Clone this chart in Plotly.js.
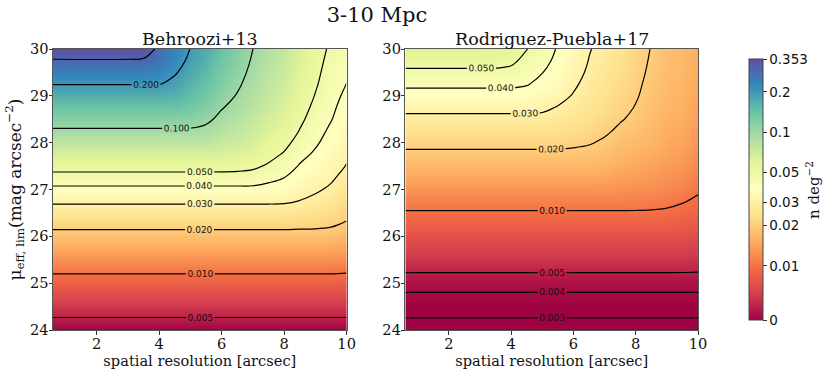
<!DOCTYPE html>
<html>
<head>
<meta charset="utf-8">
<script src="https://cdn.plot.ly/plotly-3.0.1.min.js"></script>
<style>html,body{margin:0;padding:0;background:#fff;}#chart{width:831px;height:377px;}</style>
</head>
<body>
<div id="chart"></div>
<script>
// spatial resolution [arcsec] (grid columns)
const xRes = [0.6, 3, 3.5, 4, 4.5, 5, 5.5, 6, 6.5, 7, 7.5, 8, 8.5, 9, 9.5, 10];
// limiting surface brightness (grid rows)
const muLim = [24, 24.5, 25, 25.5, 26, 26.25, 26.5, 26.75, 27, 27.25, 27.5, 27.75, 28, 28.25, 28.5, 28.75, 29, 29.25, 29.5, 29.75, 30];

// Behroozi+13 : n deg^-2, rows = muLim, cols = xRes
const behroozi = [
 [0.00403,0.00403,0.00403,0.00403,0.00403,0.00403,0.00403,0.00403,0.00403,0.00403,0.00403,0.00403,0.00403,0.00403,0.00403,0.00403],
 [0.00585,0.00585,0.00585,0.00585,0.00585,0.00585,0.00585,0.00585,0.00585,0.00585,0.00585,0.00585,0.00585,0.00585,0.00585,0.00585],
 [0.00849,0.00849,0.00849,0.00849,0.00849,0.00849,0.00849,0.00849,0.00849,0.00849,0.00849,0.00849,0.00849,0.00849,0.00849,0.00849],
 [0.01232,0.01232,0.01232,0.01232,0.01232,0.01232,0.01232,0.01232,0.01232,0.01232,0.01232,0.01232,0.01232,0.01232,0.0123,0.0120],
 [0.01788,0.01788,0.01788,0.01788,0.01788,0.01788,0.01788,0.01788,0.01788,0.01788,0.01788,0.01788,0.01788,0.0178,0.0178,0.0165],
 [0.02155,0.02155,0.02155,0.02155,0.02155,0.02155,0.02155,0.02155,0.02155,0.02155,0.02155,0.02155,0.02137,0.02124,0.0206,0.01937],
 [0.02596,0.02596,0.02596,0.02596,0.02596,0.02596,0.02596,0.02596,0.02596,0.02596,0.02596,0.0258,0.0252,0.0244,0.0231,0.0214],
 [0.03128,0.03128,0.03128,0.03128,0.03128,0.03128,0.03128,0.03128,0.03128,0.03128,0.03128,0.0311,0.0298,0.0281,0.0258,0.0232],
 [0.03768,0.03768,0.03768,0.03768,0.03768,0.03768,0.03768,0.03768,0.03768,0.0377,0.0366,0.0356,0.0327,0.0311,0.0288,0.0252],
 [0.0454,0.0454,0.0454,0.0454,0.0454,0.0454,0.0454,0.0454,0.0454,0.0449,0.0426,0.0400,0.0359,0.0335,0.0311,0.0274],
 [0.0547,0.0547,0.0547,0.0547,0.0547,0.0547,0.0547,0.0545,0.0538,0.0522,0.0485,0.0445,0.0393,0.0360,0.0329,0.0297],
 [0.0659,0.0659,0.0659,0.0659,0.0659,0.0659,0.0659,0.0645,0.0619,0.0585,0.0536,0.0489,0.0425,0.0387,0.0347,0.0311],
 [0.0794,0.0794,0.0794,0.0794,0.0794,0.0794,0.0794,0.0738,0.0698,0.0645,0.0583,0.0532,0.0459,0.0412,0.0366,0.0325],
 [0.0957,0.0957,0.0957,0.0957,0.0957,0.0957,0.0928,0.0837,0.0776,0.0701,0.0627,0.0571,0.0495,0.0433,0.0384,0.0338],
 [0.1153,0.1153,0.1153,0.1153,0.1153,0.1134,0.1057,0.0929,0.0849,0.0753,0.0668,0.0606,0.0522,0.0454,0.0404,0.0353],
 [0.1389,0.1389,0.1389,0.1389,0.1389,0.1311,0.1186,0.1017,0.0917,0.0802,0.0706,0.0639,0.0545,0.0475,0.0417,0.0367],
 [0.1673,0.1673,0.1673,0.1673,0.1638,0.1478,0.1311,0.1102,0.0982,0.0848,0.0741,0.0668,0.0566,0.0495,0.0429,0.0383],
 [0.2016,0.2016,0.2016,0.2016,0.1856,0.1633,0.1427,0.1184,0.1042,0.0890,0.0772,0.0695,0.0585,0.0512,0.0441,0.0399],
 [0.2429,0.2429,0.2429,0.2343,0.2051,0.1769,0.1533,0.1264,0.1100,0.0929,0.0801,0.0720,0.0604,0.0526,0.0453,0.0412],
 [0.2926,0.2926,0.2900,0.2616,0.2222,0.1888,0.1632,0.1340,0.1154,0.0966,0.0828,0.0743,0.0622,0.0539,0.0466,0.0426],
 [0.3526,0.3526,0.3400,0.2839,0.2369,0.1985,0.1722,0.1410,0.1205,0.1000,0.0853,0.0764,0.0640,0.0550,0.0480,0.0440]
];

// Rodriguez-Puebla+17 : n deg^-2, rows = muLim, cols = xRes
const rodriguez = [
 [0.00260,0.00260,0.00260,0.00260,0.00260,0.00260,0.00260,0.00260,0.00260,0.00260,0.00260,0.00260,0.00260,0.00260,0.00260,0.00260],
 [0.00338,0.00338,0.00338,0.00338,0.00338,0.00338,0.00338,0.00338,0.00338,0.00338,0.00338,0.00338,0.00338,0.00338,0.00338,0.00338],
 [0.00440,0.00440,0.00440,0.00440,0.00440,0.00440,0.00440,0.00440,0.00440,0.00440,0.00440,0.00440,0.00440,0.00440,0.00440,0.00440],
 [0.00574,0.00574,0.00574,0.00574,0.00574,0.00574,0.00574,0.00574,0.00574,0.00574,0.00574,0.00574,0.00574,0.00574,0.00572,0.00567],
 [0.00747,0.00747,0.00747,0.00747,0.00747,0.00747,0.00747,0.00747,0.00747,0.00747,0.00747,0.00747,0.00747,0.00745,0.00735,0.00713],
 [0.00853,0.00853,0.00853,0.00853,0.00853,0.00853,0.00853,0.00853,0.00853,0.00853,0.00853,0.00853,0.00853,0.00848,0.00830,0.00792],
 [0.00974,0.00974,0.00974,0.00974,0.00974,0.00974,0.00974,0.00974,0.00974,0.00974,0.00974,0.00974,0.00970,0.00955,0.00914,0.00873],
 [0.01112,0.01112,0.01112,0.01112,0.01112,0.01112,0.01112,0.01112,0.01112,0.01112,0.01105,0.01099,0.01088,0.01065,0.01020,0.00955],
 [0.01269,0.01269,0.01269,0.01269,0.01269,0.01269,0.01269,0.01269,0.01269,0.01269,0.01234,0.01224,0.01202,0.01168,0.01113,0.01038],
 [0.01448,0.01448,0.01448,0.01448,0.01448,0.01448,0.01448,0.01448,0.01448,0.01430,0.01368,0.01348,0.01312,0.01255,0.01200,0.01113],
 [0.01653,0.01653,0.01653,0.01653,0.01653,0.01653,0.01653,0.01653,0.01653,0.01600,0.01504,0.01470,0.01414,0.01337,0.01281,0.01179],
 [0.01887,0.01887,0.01887,0.01887,0.01887,0.01887,0.01887,0.0186,0.0184,0.01765,0.01641,0.01588,0.01509,0.01410,0.01353,0.01236],
 [0.02154,0.02154,0.02154,0.02154,0.02154,0.02154,0.0214,0.0211,0.0204,0.01925,0.01777,0.01698,0.01594,0.01474,0.01415,0.01287],
 [0.02459,0.02459,0.02459,0.02459,0.02459,0.02459,0.0241,0.0233,0.0221,0.0208,0.01910,0.01803,0.01672,0.01532,0.01468,0.01330],
 [0.02807,0.02807,0.02807,0.02807,0.02807,0.02807,0.0269,0.0254,0.0237,0.0221,0.0204,0.01895,0.01740,0.01584,0.01516,0.01368],
 [0.03203,0.03203,0.03203,0.03203,0.0320,0.0314,0.0296,0.0275,0.0253,0.0234,0.0214,0.01977,0.01797,0.01629,0.01559,0.01401],
 [0.03656,0.03656,0.03656,0.03656,0.0361,0.0345,0.0322,0.0295,0.0266,0.0245,0.0222,0.0204,0.01848,0.01669,0.01597,0.01429],
 [0.04173,0.04173,0.04173,0.0417,0.0406,0.0374,0.0345,0.0311,0.0278,0.0255,0.0230,0.0208,0.01889,0.01703,0.01629,0.01454],
 [0.04763,0.04763,0.04763,0.0471,0.0437,0.0402,0.0365,0.0326,0.0289,0.0264,0.0237,0.0212,0.01927,0.01732,0.01657,0.01476],
 [0.05437,0.05437,0.0542,0.0522,0.0469,0.0425,0.0380,0.0336,0.0298,0.0272,0.0243,0.0215,0.01958,0.01756,0.01682,0.01495],
 [0.06206,0.06206,0.0612,0.0570,0.0503,0.0445,0.0392,0.0345,0.0304,0.0279,0.0249,0.0218,0.01984,0.01775,0.01703,0.01512]
];

const levelsBehroozi = [0.005, 0.01, 0.02, 0.03, 0.04, 0.05, 0.1, 0.2, 0.3];
const levelsRodriguez = [0.003, 0.004, 0.005, 0.01, 0.02, 0.03, 0.04, 0.05];
const cbTickValues = [0, 0.01, 0.02, 0.03, 0.05, 0.1, 0.2, 0.353];
const cbTickLabels = ['0', '0.01', '0.02', '0.03', '0.05', '0.1', '0.2', '0.353'];
const xTicks = [2, 4, 6, 8, 10];
const yTicks = [24, 25, 26, 27, 28, 29, 30];

// colour normalisation: symmetric-log like (tiny linear part below 0.004, log above)
const LIN = 0.004;
function logPart(v) { return 0.207 + 0.512 * Math.log10(v / 0.01); }
function norm(v) {
  const t = v < LIN ? logPart(LIN) * v / LIN : logPart(v);
  return Math.max(0, Math.min(1, t));
}
const spectral = [
  [0.0, '#9e0142'], [0.1, '#d53e4f'], [0.2, '#f46d43'], [0.3, '#fdae61'],
  [0.4, '#fee08b'], [0.5, '#ffffbf'], [0.6, '#e6f598'], [0.7, '#abdda4'],
  [0.8, '#66c2a5'], [0.9, '#3288bd'], [1.0, '#5e4fa2']
];
const zMaxN = norm(0.353);

const SERIF = 'DejaVu Serif';
const INK = '#111';

function heat(z, xa, ya, withBar) {
  const tr = {
    type: 'heatmap', x: xRes, y: muLim, z: z.map(r => r.map(norm)),
    xaxis: xa, yaxis: ya, colorscale: spectral, zmin: 0, zmax: zMaxN,
    zsmooth: 'best', hoverinfo: 'skip', showscale: withBar
  };
  if (withBar) {
    tr.colorbar = {
      x: (742 - 53) / 648, xanchor: 'left', y: 0.5, yanchor: 'middle',
      len: 1.0, lenmode: 'fraction', thickness: 14, thicknessmode: 'pixels',
      outlinewidth: 1, outlinecolor: '#444',
      tickmode: 'array', tickvals: cbTickValues.map(norm), ticktext: cbTickLabels,
      ticks: 'outside', ticklen: 3.5, tickcolor: '#333',
      tickfont: {family: 'DejaVu Sans', size: 13.5, color: INK}
    };
  }
  return tr;
}

function lines(z, levels, xa, ya) {
  return levels.map(L => ({
    type: 'contour', x: xRes, y: muLim, z: z, xaxis: xa, yaxis: ya,
    autocontour: false,
    contours: {start: L, end: L, size: 1, coloring: 'none', showlabels: true,
               labelformat: '.3f',
               labelfont: {family: 'DejaVu Sans', size: 9, color: INK}},
    line: {color: '#000', width: 1.2, smoothing: 1},
    showscale: false, hoverinfo: 'skip'
  }));
}

const data = [
  heat(behroozi, 'x', 'y', true),
  heat(rodriguez, 'x2', 'y2', false),
  ...lines(behroozi, levelsBehroozi, 'x', 'y'),
  ...lines(rodriguez, levelsRodriguez, 'x2', 'y2')
];

const tickFont = {family: SERIF, size: 14.6, color: INK};
function xAxis(dom, anchor) {
  return {domain: dom, anchor: anchor, range: [0.6, 10], tickmode: 'array', tickvals: xTicks,
    ticks: 'outside', ticklen: 3.5, tickcolor: '#333', showline: true, mirror: true,
    linecolor: '#555', linewidth: 1, showgrid: false, zeroline: false,
    tickfont: tickFont, automargin: false, ticklabelstandoff: -3,
    title: {text: 'spatial resolution [arcsec]', font: {family: SERIF, size: 14.6, color: INK}, standoff: 2}};
}
function yAxis(anchor, withTitle) {
  const a = {domain: [0, 1], range: [24, 30], tickmode: 'array', tickvals: yTicks,
    anchor: anchor,
    ticks: 'outside', ticklen: 3.5, tickcolor: '#333', showline: true, mirror: true,
    linecolor: '#555', linewidth: 1, showgrid: false, zeroline: false,
    tickfont: tickFont, automargin: false, ticklabelstandoff: -3};
  if (withTitle) a.title = {text: '\u03bc<sub>eff, lim</sub>(mag arcsec<sup>\u22122</sup>)',
                            font: {family: SERIF, size: 17, color: INK}, standoff: 4};
  return a;
}

const layout = {
  width: 831, height: 377,
  margin: {l: 53, r: 130, t: 49, b: 47},
  paper_bgcolor: '#fff', plot_bgcolor: '#fff',
  showlegend: false, hovermode: false,
  title: {text: '3-10 Mpc', x: 377 / 831, xref: 'container', xanchor: 'center',
          y: 1 - 15 / 377, yref: 'container', yanchor: 'middle',
          font: {family: SERIF, size: 21, color: INK}},
  xaxis: xAxis([0, 295 / 648], 'y'),
  yaxis: yAxis('x', true),
  xaxis2: xAxis([354 / 648, 1], 'y2'),
  yaxis2: yAxis('x2', false),
  annotations: [
    {text: 'Behroozi+13', xref: 'paper', yref: 'paper', x: 147.5 / 648, y: 1 + 10 / 281,
     xanchor: 'center', yanchor: 'middle', showarrow: false,
     font: {family: SERIF, size: 17.5, color: INK}},
    {text: 'Rodriguez-Puebla+17', xref: 'paper', yref: 'paper', x: 501 / 648, y: 1 + 10 / 281,
     xanchor: 'center', yanchor: 'middle', showarrow: false,
     font: {family: SERIF, size: 17.5, color: INK}},
    {text: 'n deg<sup>\u22122</sup>', xref: 'paper', yref: 'paper', x: (816 - 53) / 648, y: 0.5,
     xanchor: 'center', yanchor: 'middle', textangle: -90, showarrow: false,
     font: {family: SERIF, size: 15, color: INK}}
  ]
};

Plotly.newPlot('chart', data, layout, {staticPlot: true, displayModeBar: false});
</script>
</body>
</html>
